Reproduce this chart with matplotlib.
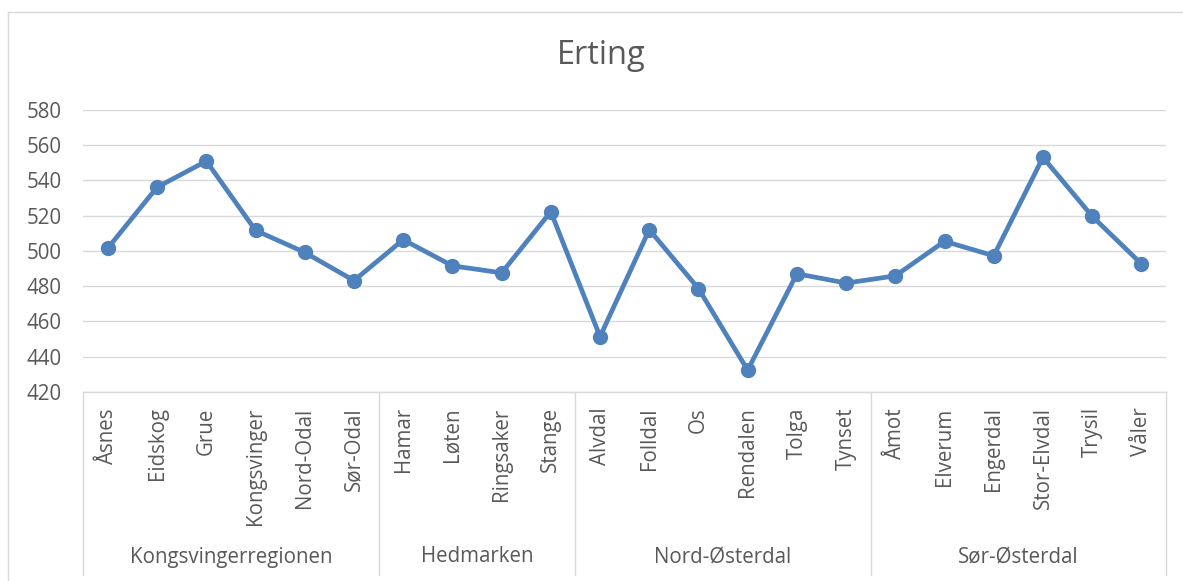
# -*- coding:utf-8 -*-

import numpy as np
import matplotlib
matplotlib.use('Agg')
import matplotlib.pyplot as plt
import matplotlib.transforms as mtransforms
from matplotlib.lines import Line2D

# data
kommuner = ['Åsnes', 'Eidskog', 'Grue', 'Kongsvinger', 'Nord-Odal', 'Sør-Odal',
            'Hamar', 'Løten', 'Ringsaker', 'Stange',
            'Alvdal', 'Folldal', 'Os', 'Rendalen', 'Tolga', 'Tynset',
            'Åmot', 'Elverum', 'Engerdal', 'Stor-Elvdal', 'Trysil', 'Våler']
erting = [501.7, 536.2, 551.0, 511.7, 499.2, 483.2,
          506.4, 491.6, 487.6, 522.3,
          451.4, 512.1, 478.7, 432.4, 487.1, 481.8,
          485.9, 505.5, 497.3, 553.1, 519.7, 492.7]
regioner = ['Kongsvingerregionen', 'Hedmarken', 'Nord-Østerdal', 'Sør-Østerdal']
antall_per_region = [6, 4, 6, 6]
y_ticks = [420, 440, 460, 480, 500, 520, 540, 560, 580]

plt.rcParams['font.family'] = ['Open Sans', 'DejaVu Sans']

tekst = '#595959'
grid = '#D9D9D9'
blaa = '#4F81BD'
fs = 14.8

W, H = 1183, 581
fig = plt.figure(figsize=(W / 100, H / 100), dpi=100)

# plot area in pixel coords
left, right, top, bottom = 83.3, 1166, 110, 392
ax = fig.add_axes([left / W, 1 - bottom / H, (right - left) / W, (bottom - top) / H])

x = np.arange(len(kommuner))
ax.plot(x, erting, color=blaa, linewidth=3.4, marker='o', markersize=10,
        solid_joinstyle='round', zorder=3)

ax.set_xlim(-0.5, len(kommuner) - 0.5)
ax.set_ylim(y_ticks[0], y_ticks[-1])
ax.set_yticks(y_ticks)
ax.yaxis.grid(True, color=grid, linewidth=1.0)
ax.set_axisbelow(True)
for s in ['left', 'right', 'top']:
    ax.spines[s].set_visible(False)
ax.spines['bottom'].set_color(grid)
ax.spines['bottom'].set_linewidth(1.0)

ax.tick_params(axis='y', length=0, pad=15.5, labelsize=fs, labelcolor=tekst)
ax.set_xticks(x)
ax.set_xticklabels(kommuner, rotation=90, va='top', ha='center')
ax.tick_params(axis='x', length=0, pad=11, labelsize=fs, labelcolor=tekst)

fig.text(601.7 / W, 1 - 55 / H, 'Erting', fontsize=23.5, color=tekst,
         ha='center', va='center')

# group separators and labels under the axis
trans = mtransforms.blended_transform_factory(ax.transData, fig.transFigure)
y_top = 1 - bottom / H
y_bot = 1 - 575 / H
grenser = np.concatenate([[0], np.cumsum(antall_per_region)]) - 0.5
for g in grenser:
    ax.add_line(Line2D([g, g], [y_top, y_bot], transform=trans, color=grid,
                       linewidth=1.0, clip_on=False))
for i, navn in enumerate(regioner):
    midt = (grenser[i] + grenser[i + 1]) / 2
    ax.text(midt, 1 - 557 / H, navn, transform=trans, ha='center', va='center',
            fontsize=fs, color=tekst)

# chart border
fig.add_artist(Line2D([8 / W, 8 / W], [1 - 12 / H, 0], transform=fig.transFigure,
                      color=grid, linewidth=1.0))
fig.add_artist(Line2D([8 / W, 1], [1 - 12 / H, 1 - 12 / H], transform=fig.transFigure,
                      color=grid, linewidth=1.0))

fig.savefig('out.png', dpi=100)
